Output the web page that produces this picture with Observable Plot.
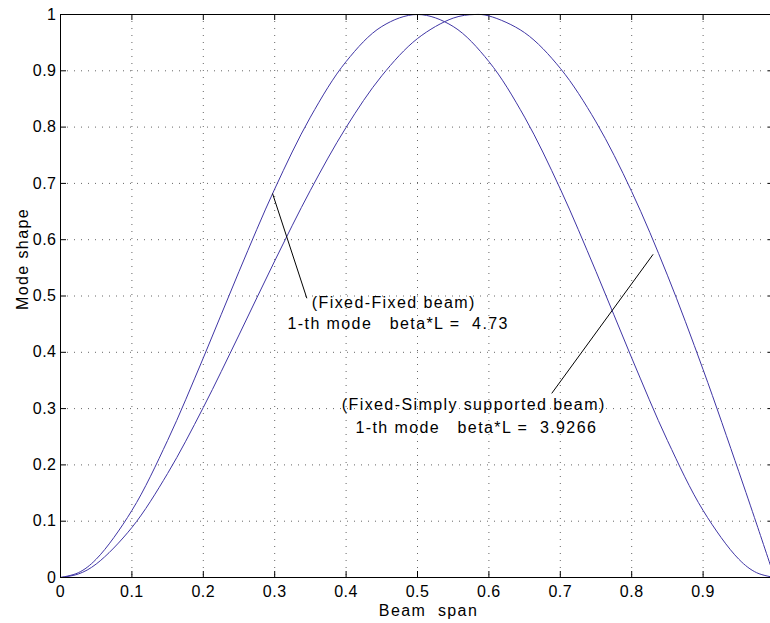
<!DOCTYPE html>
<html>
<head>
<meta charset="utf-8">
<script src="https://cdn.jsdelivr.net/npm/d3@7"></script>
<script src="https://cdn.jsdelivr.net/npm/@observablehq/plot@0.6"></script>
<style>
  html, body { margin: 0; padding: 0; background: #fff; overflow: hidden; width: 770px; height: 623px; }
  #chart svg { display: block; }
  #chart text { white-space: pre; }
  #chart g[aria-label="text"] text { letter-spacing: 1.4px; }
  #chart g[aria-label="x-axis tick label"] text,
  #chart g[aria-label="y-axis tick label"] text { letter-spacing: 0.5px; }
</style>
</head>
<body>
<div id="chart"></div>
<script>
// Beam span positions (x) and normalised mode shapes
const spanFF = [0, 0.025, 0.05, 0.1, 0.15, 0.2, 0.25, 0.3, 0.35, 0.4, 0.45, 0.5, 0.55, 0.6, 0.65, 0.7, 0.75, 0.8, 0.85, 0.9, 0.95, 0.975, 1.0];
const modeFF = [0, 0.0085, 0.0325, 0.1191, 0.2435, 0.3900, 0.5435, 0.6901, 0.8177, 0.9164, 0.9787, 1.0, 0.9787, 0.9164, 0.8177, 0.6901, 0.5435, 0.3900, 0.2435, 0.1191, 0.0325, 0.0085, 0];

const spanFS = [0, 0.025, 0.05, 0.1, 0.15, 0.2, 0.25, 0.3, 0.35, 0.4, 0.45, 0.5, 0.55, 0.58, 0.6, 0.65, 0.7, 0.75, 0.8, 0.85, 0.9, 0.95, 0.975, 1.0];
const modeFS = [0, 0.0062, 0.0239, 0.0888, 0.1848, 0.3020, 0.4308, 0.5622, 0.6877, 0.7995, 0.8912, 0.9573, 0.9936, 1.0, 0.9975, 0.9677, 0.9044, 0.8092, 0.6855, 0.5370, 0.3693, 0.1880, 0.0949, 0];

// Axis ticks
const xTicks = [0, 0.1, 0.2, 0.3, 0.4, 0.5, 0.6, 0.7, 0.8, 0.9];
const xTickLabels = ["0", "0.1", "0.2", "0.3", "0.4", "0.5", "0.6", "0.7", "0.8", "0.9"];
const yTicks = [0, 0.1, 0.2, 0.3, 0.4, 0.5, 0.6, 0.7, 0.8, 0.9, 1];
const yTickLabels = ["0", "0.1", "0.2", "0.3", "0.4", "0.5", "0.6", "0.7", "0.8", "0.9", "1"];

// Labels
const xLabel = "Beam  span";
const yLabel = "Mode shape";

// Annotation texts (data positions where each line starts)
const noteText = ["(Fixed-Fixed beam)", "1-th mode   beta*L =  4.73", "(Fixed-Simply supported beam)", "1-th mode   beta*L =  3.9266"];
const noteX = [0.352, 0.318, 0.394, 0.413];
const noteY = [0.487, 0.451, 0.306, 0.265];

// Leader lines
const leadX1 = [0.297, 0.830];
const leadY1 = [0.682, 0.574];
const leadX2 = [0.345, 0.688];
const leadY2 = [0.496, 0.327];

const ffData = spanFF.map((x, i) => ({x, y: modeFF[i]}));
const fsData = spanFS.map((x, i) => ({x, y: modeFS[i]}));
const notes = noteText.map((t, i) => ({t, x: noteX[i], y: noteY[i]}));
const leaders = leadX1.map((x1, i) => ({x1, y1: leadY1[i], x2: leadX2[i], y2: leadY2[i]}));

const curveColor = "#3f35a5";
const gridStyle = {stroke: "#333", strokeOpacity: 0.75, strokeDasharray: "1,6"};

const chart = Plot.plot({
  width: 770,
  height: 623,
  marginLeft: 60,
  marginRight: -4,
  marginTop: 14,
  marginBottom: 46,
  style: {fontFamily: "'Liberation Sans', Arial, sans-serif", fontSize: "16px", background: "#fff", color: "#000"},
  x: {domain: [0, 1]},
  y: {domain: [0, 1]},
  marks: [
    Plot.gridX(xTicks, gridStyle),
    Plot.gridY(yTicks, gridStyle),
    Plot.tickX(xTicks, {x: d => d, stroke: "#000", insetTop: 557}),
    Plot.tickX(xTicks, {x: d => d, stroke: "#000", insetBottom: 557}),
    Plot.tickY(yTicks, {y: d => d, stroke: "#000", insetRight: 708}),
    Plot.tickY(yTicks, {y: d => d, stroke: "#000", insetLeft: 708}),
    Plot.axisX(xTicks, {tickSize: 0, tickPadding: 8, fontSize: 16, label: null, tickFormat: (d, i) => xTickLabels[i]}),
    Plot.axisY(yTicks, {tickSize: 0, tickPadding: 4, fontSize: 16, label: null, tickFormat: (d, i) => yTickLabels[i]}),
    Plot.line(ffData, {x: "x", y: "y", stroke: curveColor, strokeWidth: 1, curve: "catmull-rom"}),
    Plot.line(fsData, {x: "x", y: "y", stroke: curveColor, strokeWidth: 1, curve: "catmull-rom"}),
    Plot.link(leaders, {x1: "x1", y1: "y1", x2: "x2", y2: "y2", stroke: "#000", strokeWidth: 1}),
    Plot.text(notes, {x: "x", y: "y", text: "t", textAnchor: "start", lineAnchor: "middle", fontSize: 16, fill: "#000"}),
    Plot.text([xLabel], {frameAnchor: "bottom", textAnchor: "middle", lineAnchor: "middle", dx: 11, dy: 33, fontSize: 16, fill: "#000"}),
    Plot.text([yLabel], {frameAnchor: "left", textAnchor: "middle", lineAnchor: "middle", rotate: -90, dx: -38, dy: -37, fontSize: 16, fill: "#000"}),
    Plot.frame({stroke: "#000", strokeWidth: 1})
  ]
});
document.getElementById("chart").appendChild(chart);
</script>
</body>
</html>
